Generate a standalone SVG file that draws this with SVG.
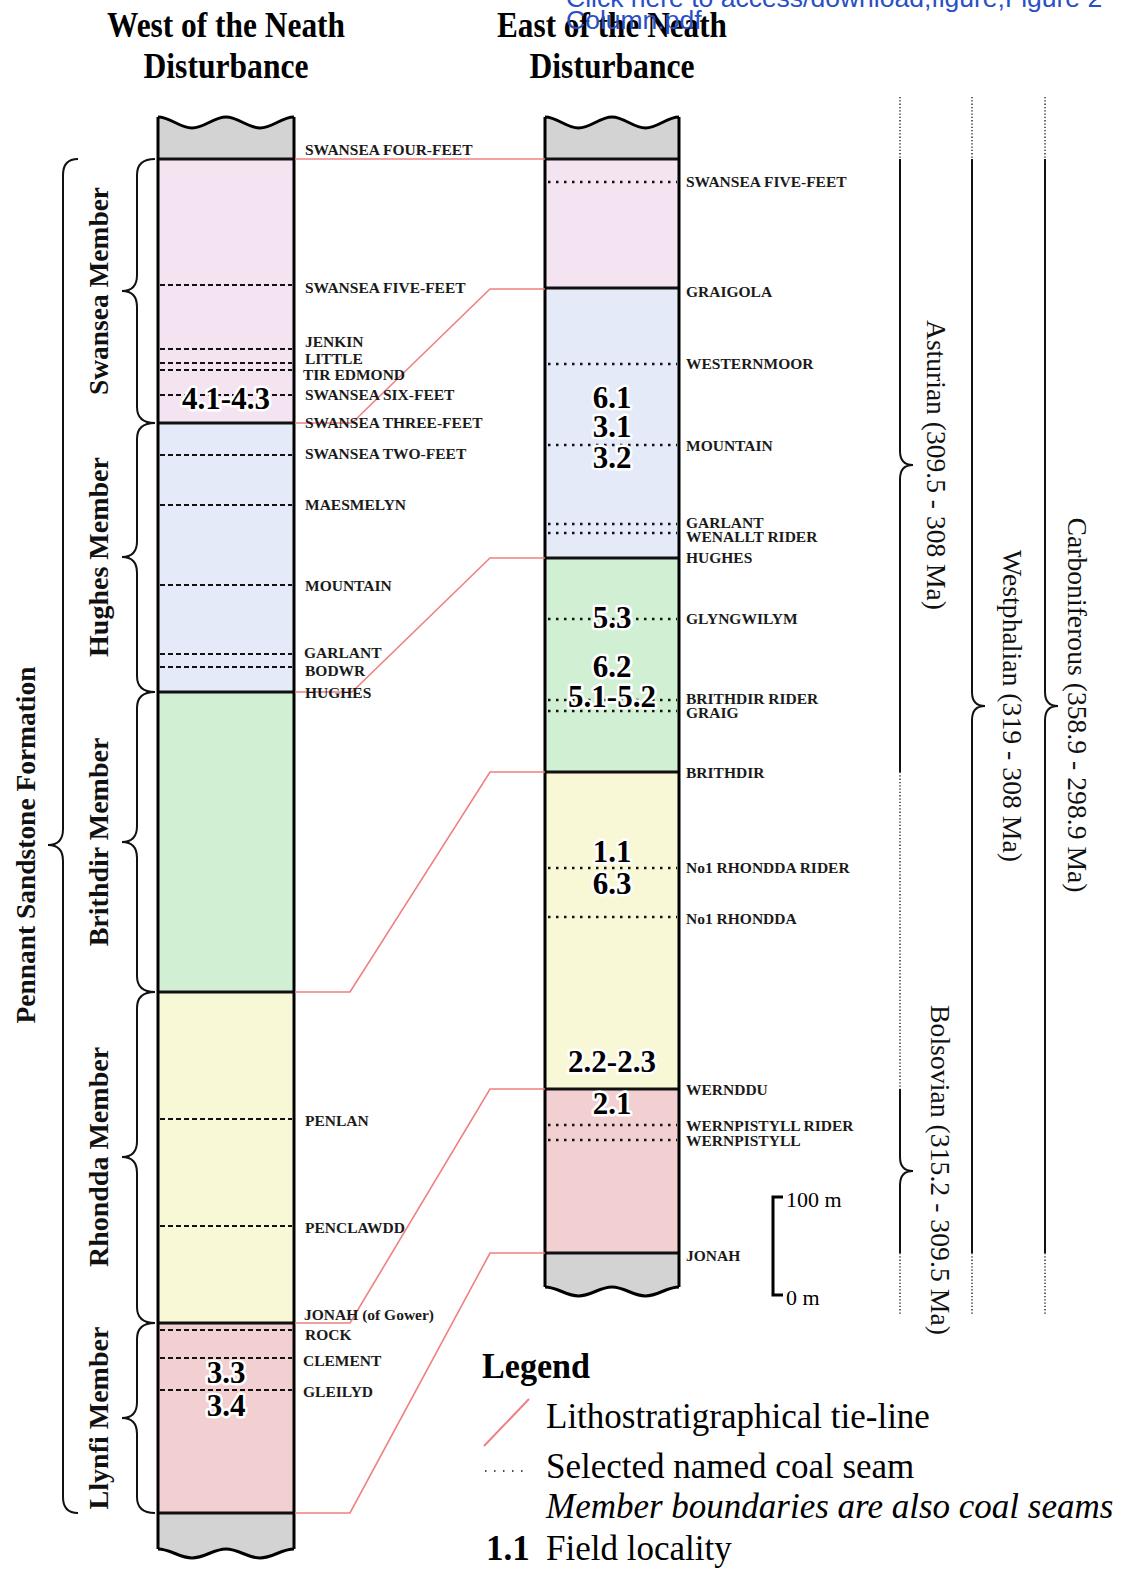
<svg xmlns="http://www.w3.org/2000/svg" width="1121" height="1570" viewBox="0 0 1121 1570">
<style>
.lab{font-family:"Liberation Serif","Times New Roman",serif;font-weight:bold;font-size:15.5px;fill:#1a1a1a}
.num{font-family:"Liberation Serif","Times New Roman",serif;font-weight:bold;font-size:31px;fill:#000;stroke:#fff;stroke-width:5;paint-order:stroke;stroke-linejoin:round;text-anchor:middle}
.mem{font-family:"Liberation Serif","Times New Roman",serif;font-weight:bold;font-size:28px;text-anchor:middle;fill:#111}
.per{font-family:"Liberation Serif","Times New Roman",serif;font-size:27.5px;text-anchor:middle;fill:#111}
.title{font-family:"Liberation Serif","Times New Roman",serif;font-weight:bold;font-size:35px;text-anchor:middle;fill:#000}
.leg{font-family:"Liberation Serif","Times New Roman",serif;font-size:35px;fill:#000}
.edge{stroke:#000;stroke-width:3;fill:none}
.bnd{stroke:#111;stroke-width:3}
.dash{stroke:#111;stroke-width:2;stroke-dasharray:5 3}
.dot{stroke:#111;stroke-width:2.5;stroke-dasharray:2.5 5.5}
.tie{stroke:#f08080;stroke-width:1.6;fill:none}
.brace{stroke:#111;stroke-width:2;fill:none}
.pl{stroke:#111;stroke-width:2;fill:none}
.pd{stroke:#111;stroke-width:1.3;stroke-dasharray:1.3 2;fill:none}
.gray{fill:#d3d3d3}
</style>

<g id="titles">
<text class="title" x="226" y="37" textLength="238" lengthAdjust="spacingAndGlyphs">West of the Neath</text>
<text class="title" x="226" y="78" textLength="165" lengthAdjust="spacingAndGlyphs">Disturbance</text>
<text class="title" x="612" y="37" textLength="230" lengthAdjust="spacingAndGlyphs">East of the Neath</text>
<text class="title" x="612" y="78" textLength="165" lengthAdjust="spacingAndGlyphs">Disturbance</text>
</g>

<g id="west-column">
<rect x="158" y="159" width="136" height="264" fill="#f4e4f2"/>
<rect x="158" y="423" width="136" height="269" fill="#e4eaf8"/>
<rect x="158" y="692" width="136" height="300" fill="#d0efd3"/>
<rect x="158" y="992" width="136" height="331" fill="#f8f8d7"/>
<rect x="158" y="1323" width="136" height="190" fill="#f2cfd0"/>
<path class="gray" d="M158,117 C170.4,117 179.6,128 192,128 C204.4,128 213.6,117 226,117 C238.4,117 247.6,128 260,128 C272.4,128 281.6,117 294,117 L294,159 L158,159 Z"/>
<path class="gray" d="M158,1513 L294,1513 L294,1549 C281.6,1549 272.4,1558 260,1558 C247.6,1558 238.4,1549 226,1549 C213.6,1549 204.4,1558 192,1558 C179.6,1558 170.4,1549 158,1549 Z"/>
<path class="dash" d="M160,285H292M160,349H292M160,363H292M160,370H292M160,395H292M160,455H292M160,505H292M160,585H292M160,654H292M160,667H292M160,1119H292M160,1226H292M160,1330H292M160,1358H292M160,1390H292"/>
<path class="bnd" d="M158,159H294M158,423H294M158,692H294M158,992H294M158,1323H294M158,1513H294"/>
<path class="edge" d="M158,117 C170.4,117 179.6,128 192,128 C204.4,128 213.6,117 226,117 C238.4,117 247.6,128 260,128 C272.4,128 281.6,117 294,117"/>
<path class="edge" d="M294,1549 C281.6,1549 272.4,1558 260,1558 C247.6,1558 238.4,1549 226,1549 C213.6,1549 204.4,1558 192,1558 C179.6,1558 170.4,1549 158,1549"/>
<path class="edge" d="M158,117V1549M294,117V1549"/>
</g>

<g id="east-column">
<rect x="545" y="159" width="134" height="129" fill="#f4e4f2"/>
<rect x="545" y="288" width="134" height="270" fill="#e4eaf8"/>
<rect x="545" y="558" width="134" height="214" fill="#d0efd3"/>
<rect x="545" y="772" width="134" height="317" fill="#f8f8d7"/>
<rect x="545" y="1089" width="134" height="164" fill="#f2cfd0"/>
<path class="gray" d="M545,117 C557.2,117 566.3,128 578.5,128 C590.7,128 599.8,117 612,117 C624.2,117 633.3,128 645.5,128 C657.7,128 666.8,117 679,117 L679,159 L545,159 Z"/>
<path class="gray" d="M545,1253 L679,1253 L679,1287 C666.8,1287 657.7,1296 645.5,1296 C633.3,1296 624.2,1287 612,1287 C599.8,1287 590.7,1296 578.5,1296 C566.3,1296 557.2,1287 545,1287 Z"/>
<path class="dot" d="M548,182H677M548,364H677M548,445H677M548,524H677M548,533H677M548,619H677M548,700H677M548,711H677M548,868H677M548,917H677M548,1125H677M548,1140H677"/>
<path class="bnd" d="M545,159H679M545,288H679M545,558H679M545,772H679M545,1089H679M545,1253H679"/>
<path class="edge" d="M545,117 C557.2,117 566.3,128 578.5,128 C590.7,128 599.8,117 612,117 C624.2,117 633.3,128 645.5,128 C657.7,128 666.8,117 679,117"/>
<path class="edge" d="M679,1287 C666.8,1287 657.7,1296 645.5,1296 C633.3,1296 624.2,1287 612,1287 C599.8,1287 590.7,1296 578.5,1296 C566.3,1296 557.2,1287 545,1287"/>
<path class="edge" d="M545,117V1287M679,117V1287"/>
</g>

<g id="connectors">
<path class="tie" d="M295,159H545"/>
<path class="tie" d="M295,423H352L490,289H545"/>
<path class="tie" d="M295,692H352L490,558H545"/>
<path class="tie" d="M295,992H350L490,772H545"/>
<path class="tie" d="M295,1323H350L490,1089H545"/>
<path class="tie" d="M295,1513H350L490,1253H545"/>
</g>

<g id="west-labels" class="lab">
<text x="305" y="155">SWANSEA FOUR-FEET</text>
<text x="305" y="293">SWANSEA FIVE-FEET</text>
<text x="305" y="347">JENKIN</text>
<text x="305" y="364">LITTLE</text>
<text x="303" y="380">TIR EDMOND</text>
<text x="305" y="400">SWANSEA SIX-FEET</text>
<text x="305" y="428">SWANSEA THREE-FEET</text>
<text x="305" y="459">SWANSEA TWO-FEET</text>
<text x="305" y="510">MAESMELYN</text>
<text x="305" y="591">MOUNTAIN</text>
<text x="304" y="658">GARLANT</text>
<text x="305" y="676">BODWR</text>
<text x="305" y="698">HUGHES</text>
<text x="305" y="1126">PENLAN</text>
<text x="305" y="1233">PENCLAWDD</text>
<text x="304" y="1320">JONAH (of Gower)</text>
<text x="305" y="1340">ROCK</text>
<text x="303" y="1366">CLEMENT</text>
<text x="303" y="1397">GLEILYD</text>
</g>

<g id="east-labels" class="lab">
<text x="686" y="187">SWANSEA FIVE-FEET</text>
<text x="686" y="297">GRAIGOLA</text>
<text x="686" y="369">WESTERNMOOR</text>
<text x="686" y="451">MOUNTAIN</text>
<text x="686" y="528">GARLANT</text>
<text x="686" y="542">WENALLT RIDER</text>
<text x="686" y="563">HUGHES</text>
<text x="686" y="624">GLYNGWILYM</text>
<text x="686" y="704">BRITHDIR RIDER</text>
<text x="686" y="718">GRAIG</text>
<text x="686" y="778">BRITHDIR</text>
<text x="686" y="873">No1 RHONDDA RIDER</text>
<text x="686" y="924">No1 RHONDDA</text>
<text x="686" y="1095">WERNDDU</text>
<text x="686" y="1131">WERNPISTYLL RIDER</text>
<text x="686" y="1146">WERNPISTYLL</text>
<text x="686" y="1261">JONAH</text>
</g>

<g id="localities" class="num">
<text x="226" y="409">4.1-4.3</text>
<text x="226" y="1383">3.3</text>
<text x="226" y="1416">3.4</text>
<text x="612" y="408">6.1</text>
<text x="612" y="437">3.1</text>
<text x="612" y="468">3.2</text>
<text x="612" y="628">5.3</text>
<text x="612" y="677">6.2</text>
<text x="612" y="707">5.1-5.2</text>
<text x="612" y="862">1.1</text>
<text x="612" y="894">6.3</text>
<text x="612" y="1072">2.2-2.3</text>
<text x="612" y="1114">2.1</text>
</g>

<g id="member-braces">
<path class="brace" d="M155,159 Q137,159 137,175 V275 Q137,291 122,291 Q137,291 137,307 V407 Q137,423 155,423"/>
<path class="brace" d="M155,423 Q137,423 137,439 V541 Q137,557 122,557 Q137,557 137,573 V676 Q137,692 155,692"/>
<path class="brace" d="M155,692 Q137,692 137,708 V826 Q137,842 122,842 Q137,842 137,858 V976 Q137,992 155,992"/>
<path class="brace" d="M155,992 Q137,992 137,1008 V1141 Q137,1157 122,1157 Q137,1157 137,1173 V1307 Q137,1323 155,1323"/>
<path class="brace" d="M155,1323 Q137,1323 137,1339 V1402 Q137,1418 122,1418 Q137,1418 137,1434 V1497 Q137,1513 155,1513"/>
<path class="brace" d="M78,159 Q63,159 63,175 V829 Q63,845 48,845 Q63,845 63,861 V1497 Q63,1513 78,1513"/>
</g>

<g id="member-labels" class="mem">
<text transform="translate(108,291) rotate(-90)" textLength="208" lengthAdjust="spacingAndGlyphs">Swansea Member</text>
<text transform="translate(108,557) rotate(-90)">Hughes Member</text>
<text transform="translate(108,842) rotate(-90)">Brithdir Member</text>
<text transform="translate(108,1157) rotate(-90)">Rhondda Member</text>
<text transform="translate(108,1418) rotate(-90)">Llynfi Member</text>
<text transform="translate(35,845) rotate(-90)" textLength="357" lengthAdjust="spacingAndGlyphs">Pennant Sandstone Formation</text>
</g>

<g id="periods">
<path class="pd" d="M900,97V159M900,772V1089M900,1253V1315M972,97V159M972,1253V1315M1045,97V159M1045,1253V1315"/>
<path class="pl" d="M900,159V451 Q900,465 913,465 Q900,465 900,479 V772"/>
<path class="pl" d="M900,1089V1157 Q900,1171 913,1171 Q900,1171 900,1185 V1253"/>
<path class="pl" d="M972,159V692 Q972,706 985,706 Q972,706 972,720 V1253"/>
<path class="pl" d="M1045,159V692 Q1045,706 1058,706 Q1045,706 1045,720 V1253"/>
<text class="per" transform="translate(927,465) rotate(90)" textLength="290" lengthAdjust="spacingAndGlyphs">Asturian (309.5 - 308 Ma)</text>
<text class="per" transform="translate(931,1170) rotate(90)" textLength="330" lengthAdjust="spacingAndGlyphs">Bolsovian (315.2 - 309.5 Ma)</text>
<text class="per" transform="translate(1003,706) rotate(90)" textLength="312" lengthAdjust="spacingAndGlyphs">Westphalian (319 - 308 Ma)</text>
<text class="per" transform="translate(1068,705) rotate(90)" textLength="375" lengthAdjust="spacingAndGlyphs">Carboniferous (358.9 - 298.9 Ma)</text>
</g>

<g id="scale-bar">
<path d="M783,1197H773V1295H783" stroke="#000" stroke-width="3" fill="none"/>
<text x="786" y="1207" style="font-family:'Liberation Serif',serif;font-size:22px">100 m</text>
<text x="786" y="1305" style="font-family:'Liberation Serif',serif;font-size:22px">0 m</text>
</g>

<g id="legend">
<text x="482" y="1378" style="font-family:'Liberation Serif',serif;font-weight:bold;font-size:35px" textLength="108" lengthAdjust="spacingAndGlyphs">Legend</text>
<path d="M484,1446L529,1399" stroke="#f08080" stroke-width="2"/>
<text class="leg" x="546" y="1428">Lithostratigraphical tie-line</text>
<path d="M485,1471H528" stroke="#111" stroke-width="1.5" stroke-dasharray="1.5 7.5"/>
<text class="leg" x="546" y="1478">Selected named coal seam</text>
<text class="leg" x="546" y="1518" font-style="italic">Member boundaries are also coal seams</text>
<text x="486" y="1560" style="font-family:'Liberation Serif',serif;font-weight:bold;font-size:35px">1.1</text>
<text class="leg" x="546" y="1560">Field locality</text>
</g>

<g id="overlay-link">
<text x="566" y="7" style="font-family:'Liberation Sans',Arial,sans-serif;font-size:26.5px;fill:#2a4fc4">Click here to access/download;figure;Figure 2</text>
<text x="566" y="29" style="font-family:'Liberation Sans',Arial,sans-serif;font-size:26.5px;fill:#2a4fc4">Column.pdf</text>
</g>
</svg>
